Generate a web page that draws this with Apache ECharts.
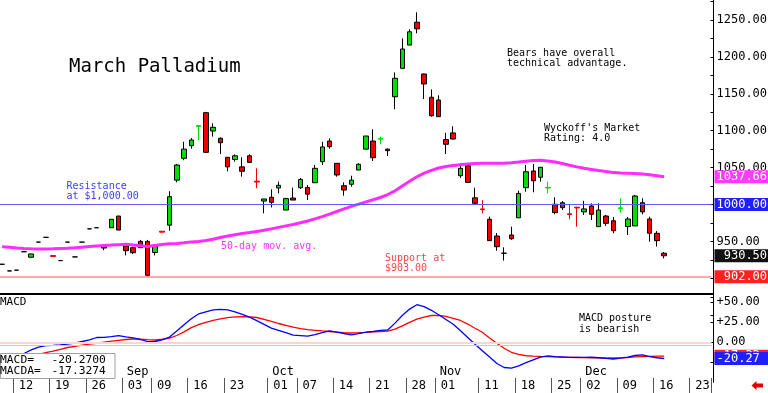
<!DOCTYPE html>
<html><head><meta charset="utf-8">
<script src="https://cdn.jsdelivr.net/npm/echarts@6/dist/echarts.min.js"></script>
<style>html,body{margin:0;padding:0;background:#fff;overflow:hidden}#c{width:768px;height:393px}</style>
</head><body><div id="c"></div>
<script>
// ---- data ----
const dates = [
'2024-08-08','2024-08-09','2024-08-12','2024-08-13','2024-08-14','2024-08-15','2024-08-16','2024-08-19','2024-08-20','2024-08-21','2024-08-22','2024-08-23','2024-08-26','2024-08-27','2024-08-28','2024-08-29','2024-08-30',
'2024-09-03','2024-09-04','2024-09-05','2024-09-06','2024-09-09','2024-09-10','2024-09-11','2024-09-12','2024-09-13','2024-09-16','2024-09-17','2024-09-18','2024-09-19','2024-09-20','2024-09-23','2024-09-24','2024-09-25','2024-09-26','2024-09-27','2024-09-30',
'2024-10-01','2024-10-02','2024-10-03','2024-10-04','2024-10-07','2024-10-08','2024-10-09','2024-10-10','2024-10-11','2024-10-14','2024-10-15','2024-10-16','2024-10-17','2024-10-18','2024-10-21','2024-10-22','2024-10-23','2024-10-24','2024-10-25','2024-10-28','2024-10-29','2024-10-30','2024-10-31',
'2024-11-01','2024-11-04','2024-11-05','2024-11-06','2024-11-07','2024-11-08','2024-11-11','2024-11-12','2024-11-13','2024-11-14','2024-11-15','2024-11-18','2024-11-19','2024-11-20','2024-11-21','2024-11-22','2024-11-25','2024-11-26','2024-11-27','2024-11-29',
'2024-12-02','2024-12-03','2024-12-04','2024-12-05','2024-12-06','2024-12-09','2024-12-10','2024-12-11','2024-12-12','2024-12-13','2024-12-16','2024-12-17','2024-12-18','2024-12-19','2024-12-20','2024-12-23','2024-12-24','2024-12-26'
];
const open  = [919,910,911,936,928.5,949,955.5,930.8,924,949,929,949,967,968.5,944.5,968.5,984.4,943.8,941.5,950,950,935,963.8,972,1033,1062.6,1079.7,1105.8,1124.4,1099.6,1089.7,1064,1061,1051,1066,1031.6,1004.7,1009.8,1022.4,992.5,1008.8,1022.8,1023,1029.5,1058,1086,1055.8,1025.5,1027.4,1046.7,1075,1086,1088.5,1075,1146,1184.5,1216,1247,1176.8,1145.3,1141.6,1088,1097,1039,1052.6,1009,994,980,957.3,934,958.7,982,1022.8,1045.4,1036.9,1022.3,1000.3,1002.4,987.5,996.3,990,998,970,984.4,978,994.5,970,971,1002.4,980.4,961,934];
const close = [919,910,911,936,933,949,955.5,929.6,924,949,929,949,967,968.5,941,980,965.4,937.4,934.7,941.5,904,943,962.5,1010.6,1053.5,1075,1087.4,1107,1070.7,1104.6,1083.7,1051,1066,1045,1057,1030.4,1007.5,1003,1026,1008,1006,1034,1014,1049,1078,1078.3,1040,1019.6,1033,1054.5,1092.8,1063.4,1089.5,1073,1171,1210.7,1234,1238,1163.3,1120.3,1119,1081.6,1088.7,1049,1030,1001.6,993,951,942.8,934,953.7,1015,1044.4,1032.2,1050.4,1023.3,989,995.7,986.5,995.3,994,986.7,992.5,974.5,964.5,995.5,980.4,1011.5,990,961,951,930.5];
const low   = [919,910,911,936,928.5,949,955.5,929.6,924,949,929,949,967,968.5,938,968.5,965.4,931,933,941,902,931,962.5,964.5,1030,1060,1075.7,1087.4,1070,1092,1068.4,1045,1058,1037.7,1057,1022,988,996,1015,992.5,1006,1021,1006,1029,1053.5,1075.7,1037.7,1012,1024,1046.7,1075,1059,1081.5,1065.7,1129,1184.5,1216,1232,1143,1119,1119,1068.4,1088,1036,1030,1000,988,951,937.4,924,952,982,1017.3,1016.5,1031,1015,986.7,992.5,980,970,985.8,979,970,971,961,989,958.7,971,986.7,949.6,943,927];
const high  = [919,910,911,936,933,949,955.5,930.8,924,949,929,949,967,968.5,946,980,984.4,944,943,952,952,944,963.8,1018,1055,1085,1090,1107.5,1125.5,1110,1091,1064,1068,1064,1068,1049,1007.5,1020.6,1031,1009,1022.8,1036,1026.4,1053.5,1085,1089.5,1055.8,1030,1039,1056,1092.8,1102,1092,1076,1179,1225,1237.4,1260.4,1177.5,1156,1148,1097,1106,1055.8,1054,1022.8,1006,983.5,961.4,942,970,1018.7,1053.5,1055,1050.4,1031,1009.8,1004.7,1000.7,997,1005,1001.6,1001.6,985.8,983,1008.4,983,1013,1008.4,983.5,964,935.6];
const ma50 = [942.7,942,941.2,940.5,940,939.8,939.8,940,940.3,940.6,
 941.3,942.2,943,943.8,944.5,945,945.6,946,945,944,
 943.2,944.5,945.8,946.8,947.3,948.2,949.3,950,951.3,953,
 955.3,957.2,959,960.6,962,963.5,965,967,969,971,
 973,975.2,977.7,980.5,983.5,987,990.5,994,997.5,1000.5,
 1003.5,1006.5,1009.5,1013.5,1018.5,1025,1031.5,1037.5,1042.5,1046.3,
 1049.5,1051.5,1053,1054,1055,1055.4,1055.8,1055.8,1055.8,1056,
 1056.6,1057.5,1058.6,1059.6,1059.8,1059,1057.5,1055.5,1053.2,1051,
 1049,1047.5,1046,1044.8,1043.2,1042.6,1042.3,1042,1041.3,1040.3,
 1039,1037.66];
const macd = [-24,-21,-17,-14,-9.5,-6,-4.2,-3.8,-3.3,-2.2,
 -1,1,3,6,6.2,7,8.3,6.8,5.5,3.5,
 0.9,1,3,6.5,14,22,29.5,35.4,38,40.5,
 41.2,40.5,38,35,31.5,27,22.5,17.8,15,12,
 9,8.3,7.6,9.5,12,14.3,12.8,11,9.3,10.8,
 12.6,13.5,14.8,15.4,24,33.5,41.5,47,44.5,40,
 34.5,28.5,22.5,14.5,6,-2.5,-10.5,-18.5,-26.5,-31.5,
 -32.3,-29.5,-25.5,-22,-18.5,-17.1,-17.8,-18.4,-18.8,-18.9,
 -18.8,-18.7,-19.3,-20.2,-20.9,-19.8,-18.5,-16.5,-15.7,-18,
 -19.3,-20.27];
const macdSignal = [-27,-24,-21.5,-19,-16.8,-15,-13,-11,-8.7,-6.5,
 -5,-3.6,-2.3,-1.2,0.2,1.4,2.5,3.5,4.1,4,
 3.4,2.9,3.8,5.3,8.5,13,18.4,22,25,27.5,
 29.3,30.8,31.8,32.2,31.8,31,28.8,26.3,23.5,21.3,
 19,17.2,15.8,15,14.2,13.5,12.8,12,11.6,12,
 12.5,13.2,13.5,14,16.5,20.5,25,29,31.5,33.5,
 33.7,32.5,30,27.3,22.8,17.5,12.5,5.5,-1.2,-7.5,
 -12.5,-15.2,-16.8,-17.3,-17.7,-18,-18.2,-18.5,-18.8,-19,
 -19.2,-19.3,-19.5,-19.6,-19.6,-19.5,-19,-18.3,-17.8,-17.6,
 -17.4,-17.33];
const macdLabel = -20.2700, macdaLabel = -17.3274;
const resistanceLevel = 1000, supportLevel = 902, macdRefLevel = -4;
const tickDates = ['2024-08-12','2024-08-19','2024-08-26','2024-09-03','2024-09-09','2024-09-16','2024-09-23','2024-10-01','2024-10-07','2024-10-14','2024-10-21','2024-10-28','2024-11-01','2024-11-11','2024-11-18','2024-11-25','2024-12-02','2024-12-09','2024-12-16','2024-12-23'];
const monthLabels = {'2024-09-03':'Sep','2024-10-01':'Oct','2024-11-01':'Nov','2024-12-02':'Dec'};

// ---- chart ----
const F = 'DejaVu Sans Mono';
const GREEN = '#00dd00', RED = '#ee0000';
const last = close.length - 1;
const candleData = open.map((o, i) => {
  const c = close[i], v = [o, c, low[i], high[i]];
  const d = Math.abs(o - c);
  if (d > 0 && d <= 1.5) { const col = c > o ? GREEN : RED; return {value: v, itemStyle: {borderColor: col, borderColor0: col}}; }
  return v;
});
const tickSet = new Set(tickDates);
const isTick = (i, v) => tickSet.has(v);
const L = -1.5, R = 56.5;
function boxLabel(txt, bg) {
  return {show: true, position: 'end', distance: 3, formatter: txt, color: '#fff', backgroundColor: bg,
    fontFamily: F, fontSize: 12, lineHeight: 12, padding: [1, 2, 0, 2]};
}
function txt(x, y, text, color, size, lh) {
  return {type: 'text', x: x, y: y, z: 50, style: {text: text, fill: color, font: size + 'px "' + F + '"', lineHeight: lh || size, verticalAlign: 'top'}};
}
const chart = echarts.init(document.getElementById('c'), null, {renderer: 'canvas'});
chart.setOption({
  animation: false,
  backgroundColor: '#fff',
  grid: [
    {left: L, right: R, top: -16.9, height: 332.1, outerBoundsMode: 'none'},
    {left: L, right: R, top: 282.3, height: 100, outerBoundsMode: 'none'},
    {left: L, right: R, top: 378, height: 15, outerBoundsMode: 'none'}
  ],
  xAxis: [
    {gridIndex: 0, type: 'category', data: dates, show: false},
    {gridIndex: 1, type: 'category', data: dates, show: false},
    {gridIndex: 2, type: 'category', data: dates, position: 'top', axisLine: {show: false},
      axisTick: {show: false, alignWithLabel: true, interval: isTick},
      splitLine: {show: true, interval: isTick, lineStyle: {color: '#555', width: 1}},
      axisLabel: {inside: true, interval: isTick, formatter: v => v.slice(8), align: 'left', margin: 2,
        padding: [0, 0, 0, 2], fontFamily: F, fontSize: 12, color: '#000'}},
    {gridIndex: 2, type: 'category', data: dates, position: 'top', axisLine: {show: false}, axisTick: {show: false},
      axisLabel: {interval: (i, v) => (v in monthLabels), formatter: v => monthLabels[v] || '', align: 'left', margin: 0,
        padding: [0, 0, 0, 1], fontFamily: F, fontSize: 12, color: '#000'}}
  ],
  yAxis: [
    {gridIndex: 0, type: 'value', position: 'right', offset: 2, min: 850, max: 1300, interval: 50,
      axisLine: {show: true, lineStyle: {color: '#000'}},
      axisTick: {show: true, inside: true, length: 3, lineStyle: {color: '#000'}},
      minorTick: {show: true, splitNumber: 2, length: 3, lineStyle: {color: '#000'}},
      splitLine: {show: false},
      axisLabel: {showMinLabel: false, showMaxLabel: false, formatter: v => v.toFixed(2), margin: 3, fontFamily: F, fontSize: 12, color: '#000'}},
    {gridIndex: 1, type: 'value', position: 'right', offset: 2, min: -50, max: 75, interval: 25,
      axisLine: {show: true, lineStyle: {color: '#000'}},
      axisTick: {show: true, inside: true, length: 3, lineStyle: {color: '#000'}},
      splitLine: {show: false},
      axisLabel: {showMinLabel: false, showMaxLabel: false, formatter: v => (v > 0 ? '+' : '') + v.toFixed(2), margin: 3, fontFamily: F, fontSize: 12, color: '#000'}},
    {gridIndex: 2, type: 'value', show: false}
  ],
  series: [
    {type: 'line', name: '50-day', xAxisIndex: 0, yAxisIndex: 0, data: ma50, symbol: 'none', smooth: false,
      lineStyle: {color: '#ff2bff', width: 3},
      markLine: {silent: true, symbol: 'none', data: [
        {yAxis: ma50[last], lineStyle: {color: 'transparent'}, label: boxLabel(ma50[last].toFixed(2), '#ff3cff')}
      ]}},
    {type: 'candlestick', xAxisIndex: 0, yAxisIndex: 0, data: candleData, barWidth: 5,
      itemStyle: {color: GREEN, color0: RED, borderColor: '#000', borderColor0: '#000', borderColorDoji: '#000', borderWidth: 1},
      markLine: {silent: true, symbol: 'none', data: [
        {yAxis: resistanceLevel, lineStyle: {color: '#5a5aff', width: 1, type: 'solid'}, label: boxLabel(resistanceLevel.toFixed(2), '#2020ff')},
        {yAxis: supportLevel, lineStyle: {color: '#ff8c8c', width: 1.5, type: 'solid'}, label: boxLabel(' ' + supportLevel.toFixed(2), '#ff2020')},
        {yAxis: close[last], lineStyle: {color: 'transparent'}, label: boxLabel(' ' + close[last].toFixed(2), '#111111')}
      ]}},
    {type: 'line', name: 'MACDA', xAxisIndex: 1, yAxisIndex: 1, data: macdSignal, symbol: 'none',
      lineStyle: {color: '#ff0000', width: 1.3},
      markLine: {silent: true, symbol: 'none', data: [
        {yAxis: 0, lineStyle: {color: '#ffd4d4', width: 2, type: 'solid'}, label: {show: false}},
        {yAxis: macdSignal[last], lineStyle: {color: 'transparent'}, label: boxLabel(macdSignal[last].toFixed(2) + ' ', '#ff2020')}
      ]}},
    {type: 'line', name: 'MACD', xAxisIndex: 1, yAxisIndex: 1, data: macd, symbol: 'none',
      lineStyle: {color: '#0000ff', width: 1.3},
      markLine: {silent: true, symbol: 'none', data: [
        {yAxis: macdRefLevel, lineStyle: {color: '#c4c4ff', width: 1, type: 'solid'}, label: {show: false}},
        {yAxis: macd[last], lineStyle: {color: 'transparent'}, label: boxLabel(macd[last].toFixed(2) + ' ', '#2020ff')}
      ]}}
  ],
  graphic: [
    {type: 'line', z: 40, shape: {x1: 0, y1: 294, x2: 713.5, y2: 294}, style: {stroke: '#000', lineWidth: 2}},
    txt(69, 57.5, 'March Palladium', '#000', 19),
    txt(507, 48, 'Bears have overall\ntechnical advantage.', '#000', 10, 10.5),
    txt(544, 123, "Wyckoff's Market\nRating: 4.0", '#000', 10, 10.5),
    txt(66.5, 180.7, 'Resistance\nat $1,000.00', '#3c3cff', 10, 10.7),
    txt(221, 241.8, '50-day mov. avg.', '#ff33ff', 10),
    txt(385, 253.8, 'Support at\n$903.00', '#ff4444', 10, 10),
    txt(579, 313, 'MACD posture\nis bearish', '#000', 10, 10.7),
    txt(0, 296.5, 'MACD', '#000', 11),
    {type: 'rect', z: 60, shape: {x: 0.5, y: 353.5, width: 114.5, height: 25}, style: {fill: '#fff', stroke: '#a0a0a0', lineWidth: 1}},
    {type: 'text', z: 61, x: 0, y: 354.5, style: {text: 'MACD=\nMACDA=', fill: '#000', font: '11.3px "' + F + '"', lineHeight: 11.3, verticalAlign: 'top'}},
    {type: 'text', z: 61, x: 51.5, y: 354.5, style: {text: macdLabel.toFixed(4) + '\n' + macdaLabel.toFixed(4), fill: '#000', font: '11.3px "' + F + '"', lineHeight: 11.3, verticalAlign: 'top'}},
    {type: 'polygon', z: 60, shape: {points: [[751.5, 385.5], [756.5, 381], [756.5, 383.5], [763, 383.5], [763, 387.5], [756.5, 387.5], [756.5, 390]]}, style: {fill: '#e00000'}}
  ]
});
</script>
</body></html>
